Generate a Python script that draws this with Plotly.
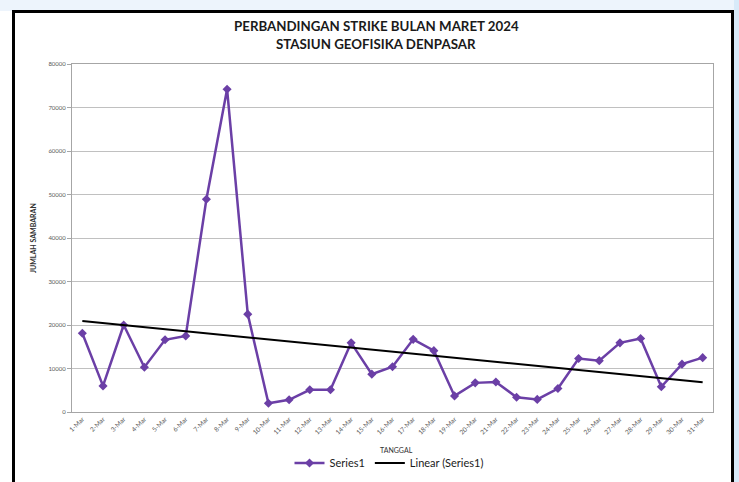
import numpy as np
import plotly.graph_objects as go

# Daily lightning strike counts, March 2024
tanggal = [f"{d}-Mar" for d in range(1, 32)]
jumlah_sambaran = [
    18100, 6000, 20000, 10300, 16600, 17500, 48900, 74200, 22500, 2000,
    2800, 5100, 5100, 15900, 8700, 10400, 16700, 14100, 3700, 6700,
    6900, 3400, 2900, 5400, 12300, 11800, 15900, 16900, 5800, 11000,
    12500,
]
y_ticks = [0, 10000, 20000, 30000, 40000, 50000, 60000, 70000, 80000]

title_line1 = "PERBANDINGAN STRIKE BULAN MARET 2024"
title_line2 = "STASIUN GEOFISIKA DENPASAR"

# Least-squares linear trend over the day index
idx = np.arange(1, len(jumlah_sambaran) + 1)
slope, intercept = np.polyfit(idx, jumlah_sambaran, 1)
trend = slope * idx + intercept

W, H = 739, 482
L, R, T, B = 72, 26, 64, 70
pw, ph = W - L - R, H - T - B


def px(x):
    return (x - L) / pw


def py(y):
    return (H - B - y) / ph


FONT = "Lato, 'Open Sans', sans-serif"
PURPLE = "#6b3fa6"

fig = go.Figure()
fig.add_trace(go.Scatter(
    x=tanggal, y=jumlah_sambaran, name="Series1",
    mode="lines+markers",
    line=dict(color=PURPLE, width=2.5),
    marker=dict(symbol="diamond", size=7, color=PURPLE),
))
fig.add_trace(go.Scatter(
    x=tanggal, y=trend, name="Linear (Series1)",
    mode="lines", line=dict(color="#000000", width=2),
))

shapes = [
    # light blue page strip above the chart box
    dict(type="rect", xref="paper", yref="paper", layer="below",
         x0=px(0), x1=px(W), y0=py(11), y1=py(0),
         fillcolor="#edf4fc", line=dict(width=0)),
    # light blue page strip on the right
    dict(type="rect", xref="paper", yref="paper", layer="below",
         x0=px(734), x1=px(W), y0=py(H + 10), y1=py(0),
         fillcolor="#d8eaf9", line=dict(width=0)),
    # chart box with black border
    dict(type="rect", xref="paper", yref="paper", layer="below",
         x0=px(13.5), x1=px(732.5), y0=py(H + 20), y1=py(11.5),
         fillcolor="#ffffff", line=dict(color="#000000", width=3)),
]

annotations = [
    dict(text=f"<b>{title_line1}</b>", x=px(376), y=py(26), xref="paper", yref="paper",
         showarrow=False, xanchor="center", yanchor="middle",
         font=dict(family=FONT, size=13.3, color="#1a1a1a")),
    dict(text=f"<b>{title_line2}</b>", x=px(376), y=py(43.5), xref="paper", yref="paper",
         showarrow=False, xanchor="center", yanchor="middle",
         font=dict(family=FONT, size=13.3, color="#1a1a1a")),
    dict(text="<b>JUMLAH SAMBARAN</b>", x=px(33), y=0.5, xref="paper", yref="paper",
         showarrow=False, textangle=-90, xanchor="center", yanchor="middle",
         font=dict(family=FONT, size=7, color="#333333")),
    dict(text="TANGGAL", x=px(396), y=py(450), xref="paper", yref="paper",
         showarrow=False, xanchor="center", yanchor="middle",
         font=dict(family=FONT, size=7, color="#333333")),
]

fig.update_layout(
    width=W, height=H,
    margin=dict(l=L, r=R, t=T, b=B, autoexpand=False),
    paper_bgcolor="#ffffff",
    plot_bgcolor="rgba(0,0,0,0)",
    shapes=shapes,
    annotations=annotations,
    showlegend=True,
    legend=dict(orientation="h", x=px(389), y=py(463), xanchor="center", yanchor="middle",
                font=dict(family=FONT, size=11, color="#1a1a1a"),
                bgcolor="rgba(0,0,0,0)", itemwidth=30),
    font=dict(family=FONT),
)
fig.update_xaxes(
    type="category", range=[-0.5, len(tanggal) - 0.5],
    showgrid=False, showline=True, mirror=True, linecolor="#a6a6a6", linewidth=1,
    tickangle=-45, tickfont=dict(family=FONT, size=6.5, color="#595959"),
    ticks="", zeroline=False, automargin=False,
)
fig.update_yaxes(
    range=[0, 80000], tickvals=y_ticks, tickformat="d",
    showgrid=True, gridcolor="#c0c0c0", gridwidth=1,
    showline=True, mirror=True, linecolor="#a6a6a6", linewidth=1,
    ticks="outside", ticklen=4, tickcolor="#a6a6a6",
    tickfont=dict(family=FONT, size=6, color="#595959"),
    zeroline=False, automargin=False,
)

fig.write_html("out.html")
